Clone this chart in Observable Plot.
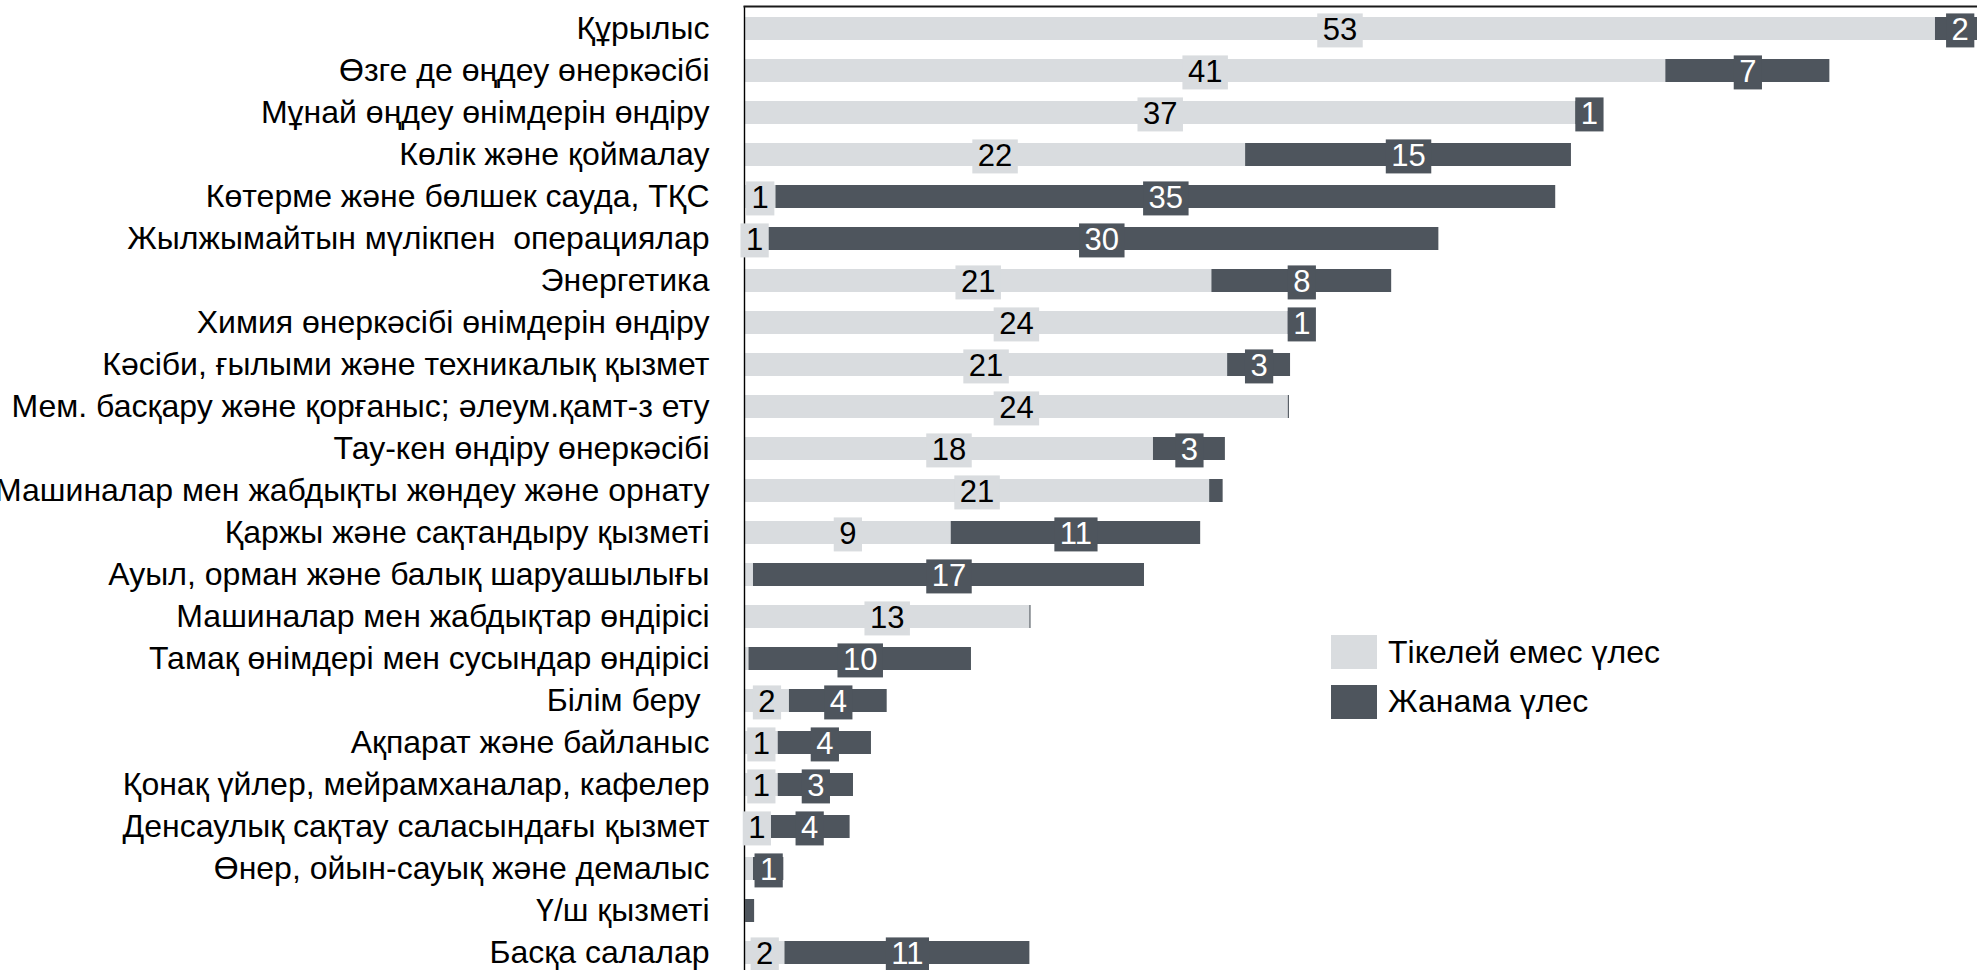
<!DOCTYPE html>
<html><head><meta charset="utf-8">
<script src="https://cdn.jsdelivr.net/npm/d3@7"></script>
<script src="https://cdn.jsdelivr.net/npm/@observablehq/plot@0.6"></script>
<style>
html,body{margin:0;padding:0;background:#fff;}
#chart{position:relative;width:1977px;height:970px;overflow:hidden;}
svg text{white-space:pre;}
.legend{position:absolute;left:1331px;font-family:"Liberation Sans",Arial,sans-serif;font-size:32px;color:#000;}
.legend .item{position:absolute;left:0;display:flex;align-items:center;white-space:nowrap;height:34px;}
.legend .sw{width:46px;height:34px;margin-right:11px;flex:none;}
</style></head><body>
<div id="chart"></div>
<script>
const categories = [
  "Құрылыс",
  "Өзге де өңдеу өнеркәсібі",
  "Мұнай өңдеу өнімдерін өндіру",
  "Көлік және қоймалау",
  "Көтерме және бөлшек сауда, ТҚС",
  "Жылжымайтын мүлікпен  операциялар",
  "Энергетика",
  "Химия өнеркәсібі өнімдерін өндіру",
  "Кәсіби, ғылыми және техникалық қызмет",
  "Мем. басқару және қорғаныс; әлеум.қамт-з ету",
  "Тау-кен өндіру өнеркәсібі",
  "Машиналар мен жабдықты жөндеу және орнату",
  "Қаржы және сақтандыру қызметі",
  "Ауыл, орман және балық шаруашылығы",
  "Машиналар мен жабдықтар өндірісі",
  "Тамақ өнімдері мен сусындар өндірісі",
  "Білім беру ",
  "Ақпарат және байланыс",
  "Қонақ үйлер, мейрамханалар, кафелер",
  "Денсаулық сақтау саласындағы қызмет",
  "Өнер, ойын-сауық және демалыс",
  "Ү/ш қызметі",
  "Басқа салалар"
];
const seriesNames = ["Тікелей емес үлес", "Жанама үлес"];
const indirect = [53.0, 41.0, 37.0, 22.3, 1.4, 0.9, 20.8, 24.2, 21.5, 24.2, 18.2, 20.7, 9.2, 0.4, 12.7, 0.2, 2.0, 1.5, 1.5, 1.1, 0.4, 0.05, 1.8];
const direct   = [2.2, 7.3, 1.2, 14.5, 34.7, 30.0, 8.0, 1.2, 2.8, 0.05, 3.2, 0.6, 11.1, 17.4, 0.05, 9.9, 4.35, 4.15, 3.35, 3.6, 1.35, 0.4, 10.9];
const indirectLabels = ["53","41","37","22","1","1","21","24","21","24","18","21","9",null,"13",null,"2","1","1","1",null,null,"2"];
const directLabels   = ["2","7","1","15","35","30","8","1","3",null,"3",null,"11","17",null,"10","4","4","3","4","1",null,"11"];
const colors = ["#d9dcdf", "#4e555d"];
const textColors = ["#000000", "#ffffff"];

const rows = [];
categories.forEach((c, i) => {
  rows.push({category: c, series: seriesNames[0], value: indirect[i], label: indirectLabels[i]});
  rows.push({category: c, series: seriesNames[1], value: direct[i], label: directLabels[i]});
});

const FONT = '"Liberation Sans", Arial, sans-serif';

const chart = Plot.plot({
  width: 1977,
  height: 970,
  marginLeft: 744,
  marginRight: 0,
  marginTop: 6,
  marginBottom: 0,
  style: {fontFamily: FONT, fontSize: "31px", color: "#000", background: "#fff", overflow: "hidden"},
  x: {domain: [0, 54.87], axis: null},
  y: {domain: categories, range: [5.1, 975.4], paddingInner: 0.446, paddingOuter: 0.25, axis: null},
  color: {domain: seriesNames, range: colors},
  marks: [
    Plot.barX(rows, Plot.stackX({x: "value", y: "category", z: "series", fill: "series"})),
    Plot.ruleX([0], {stroke: "#000", strokeWidth: 1.4}),
    Plot.frame({anchor: "top", stroke: "#1a1a1a", strokeWidth: 2}),
    Plot.axisY({tickSize: 0, tickPadding: 35, fontSize: 32, label: null, textAnchor: "end", fill: "#000"}),
    Plot.text(rows, Plot.stackX({
      x: "value", y: "category", z: "series",
      text: d => d.label == null ? "" : d.label,
      fill: d => textColors[seriesNames.indexOf(d.series)],
      fontSize: 31, dy: 1,
      className: "seg-labels"
    }))
  ]
});

const host = document.getElementById("chart");
host.appendChild(chart);

// background boxes behind the segment value labels
const svgRect = chart.getBoundingClientRect();
const boxLayer = document.createElementNS("http://www.w3.org/2000/svg", "g");
const labelGroup = chart.querySelector("g.seg-labels") || chart.querySelector(".seg-labels");
labelGroup.parentNode.insertBefore(boxLayer, labelGroup);
labelGroup.querySelectorAll("text").forEach(t => {
  if (!t.textContent.trim()) return;
  const r = t.getBoundingClientRect();
  const fill = (t.getAttribute("fill") || "").toLowerCase();
  const boxFill = fill === "#ffffff" || fill === "white" || fill === "rgb(255, 255, 255)" ? colors[1] : colors[0];
  const cx = r.left - svgRect.left + r.width / 2;
  const cy = r.top - svgRect.top + r.height / 2 + 1;
  const w = r.width + 11, h = 34;
  const rect = document.createElementNS("http://www.w3.org/2000/svg", "rect");
  rect.setAttribute("x", cx - w / 2);
  rect.setAttribute("y", cy - h / 2);
  rect.setAttribute("width", w);
  rect.setAttribute("height", h);
  rect.setAttribute("fill", boxFill);
  boxLayer.appendChild(rect);
});

// legend
const legend = document.createElement("div");
legend.className = "legend";
legend.style.top = "635px";
seriesNames.forEach((name, i) => {
  const item = document.createElement("div");
  item.className = "item";
  item.style.top = (i * 49.5) + "px";
  const sw = document.createElement("div");
  sw.className = "sw";
  sw.style.background = colors[i];
  const tx = document.createElement("span");
  tx.textContent = name;
  item.appendChild(sw);
  item.appendChild(tx);
  legend.appendChild(item);
});
host.appendChild(legend);
</script>
</body></html>
